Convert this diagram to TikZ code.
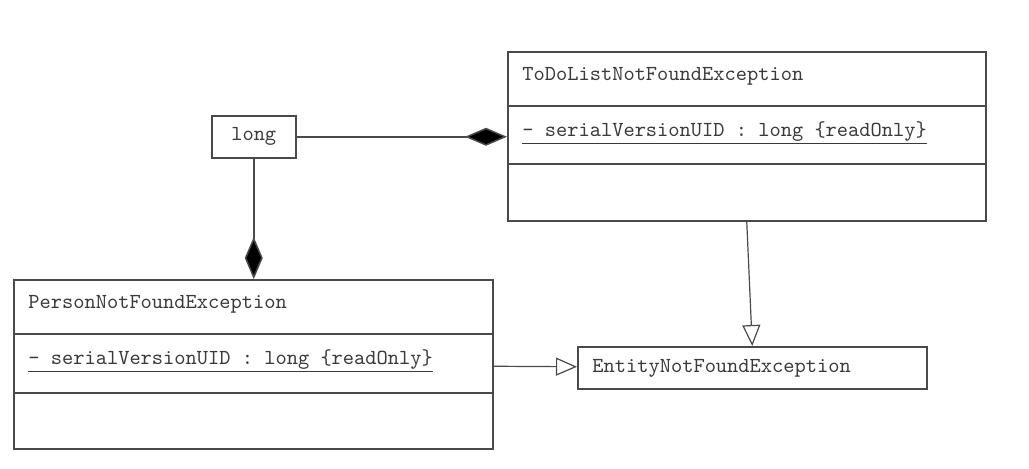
\documentclass[tikz,border=0pt]{standalone}
\usepackage{fontspec}
\usepackage{tikz}
\usetikzlibrary{positioning,arrows.meta}
\definecolor{umlline}{HTML}{4A4A4A}
\definecolor{umltext}{HTML}{3A3A3A}
\tikzset{
	classbox/.style={draw=umlline, line width=0.75pt, inner sep=0pt, anchor=north west},
	umltxt/.style={text=umltext, inner sep=0pt, font=\ttfamily\fontsize{10.7pt}{12pt}\selectfont},
	divider/.style={draw=umlline, line width=0.75pt},
	compos/.style={draw=umlline, line width=0.75pt, -{Diamond[fill=black, length=21pt, width=9pt]}},
	inherit/.style={draw=umlline, line width=0.6pt, -{Triangle[open, fill=white, length=10.5pt, width=9pt]}}
}

\begin{document}
\begin{tikzpicture}[x=0.5pt, y=-0.5pt]
		\useasboundingbox (0,0) rectangle (1029,468);
		% class boxes
		\node[classbox, minimum width=239pt, minimum height=84.5pt] (todo) at (507,51) {};
		\node[classbox, minimum width=42pt, minimum height=21pt] (long) at (211,115) {};
		\node[classbox, minimum width=239.5pt, minimum height=84.5pt] (person) at (13,279) {};
		\node[classbox, minimum width=174.5pt, minimum height=21pt] (entity) at (577,346) {};
		\draw[divider] (507,106) -- (985,106);
		\draw[divider] (507,164) -- (985,164);
		\draw[divider] (13,334) -- (492,334);
		\draw[divider] (13,393) -- (492,393);
		% texts
		\node[umltxt, anchor=base west] (todoname) at (522,80) {ToDoListNotFoundException};
		\node[umltxt, anchor=base west] (todoattr) at (522,136) {\underline{- serialVersionUID : long \{readOnly\}}};
		\node[umltxt] (longname) at (long) {long};
		\node[umltxt, anchor=base west] (personname) at (28,308) {PersonNotFoundException};
		\node[umltxt, anchor=base west] (personattr) at (28,364) {\underline{- serialVersionUID : long \{readOnly\}}};
		\node[umltxt, anchor=west] (entityname) at (592,368) {EntityNotFoundException};
		% connectors
		\draw[compos] (long.east) -- (long.east -| todo.west);
		\draw[compos] (long.south) -- (long.south |- person.north);
		\draw[inherit] (todo.south) -- (entity.north);
		\draw[inherit] ([yshift=-1pt]person.east) -- ([yshift=0.5pt]entity.west);
	\end{tikzpicture}
\end{document}
